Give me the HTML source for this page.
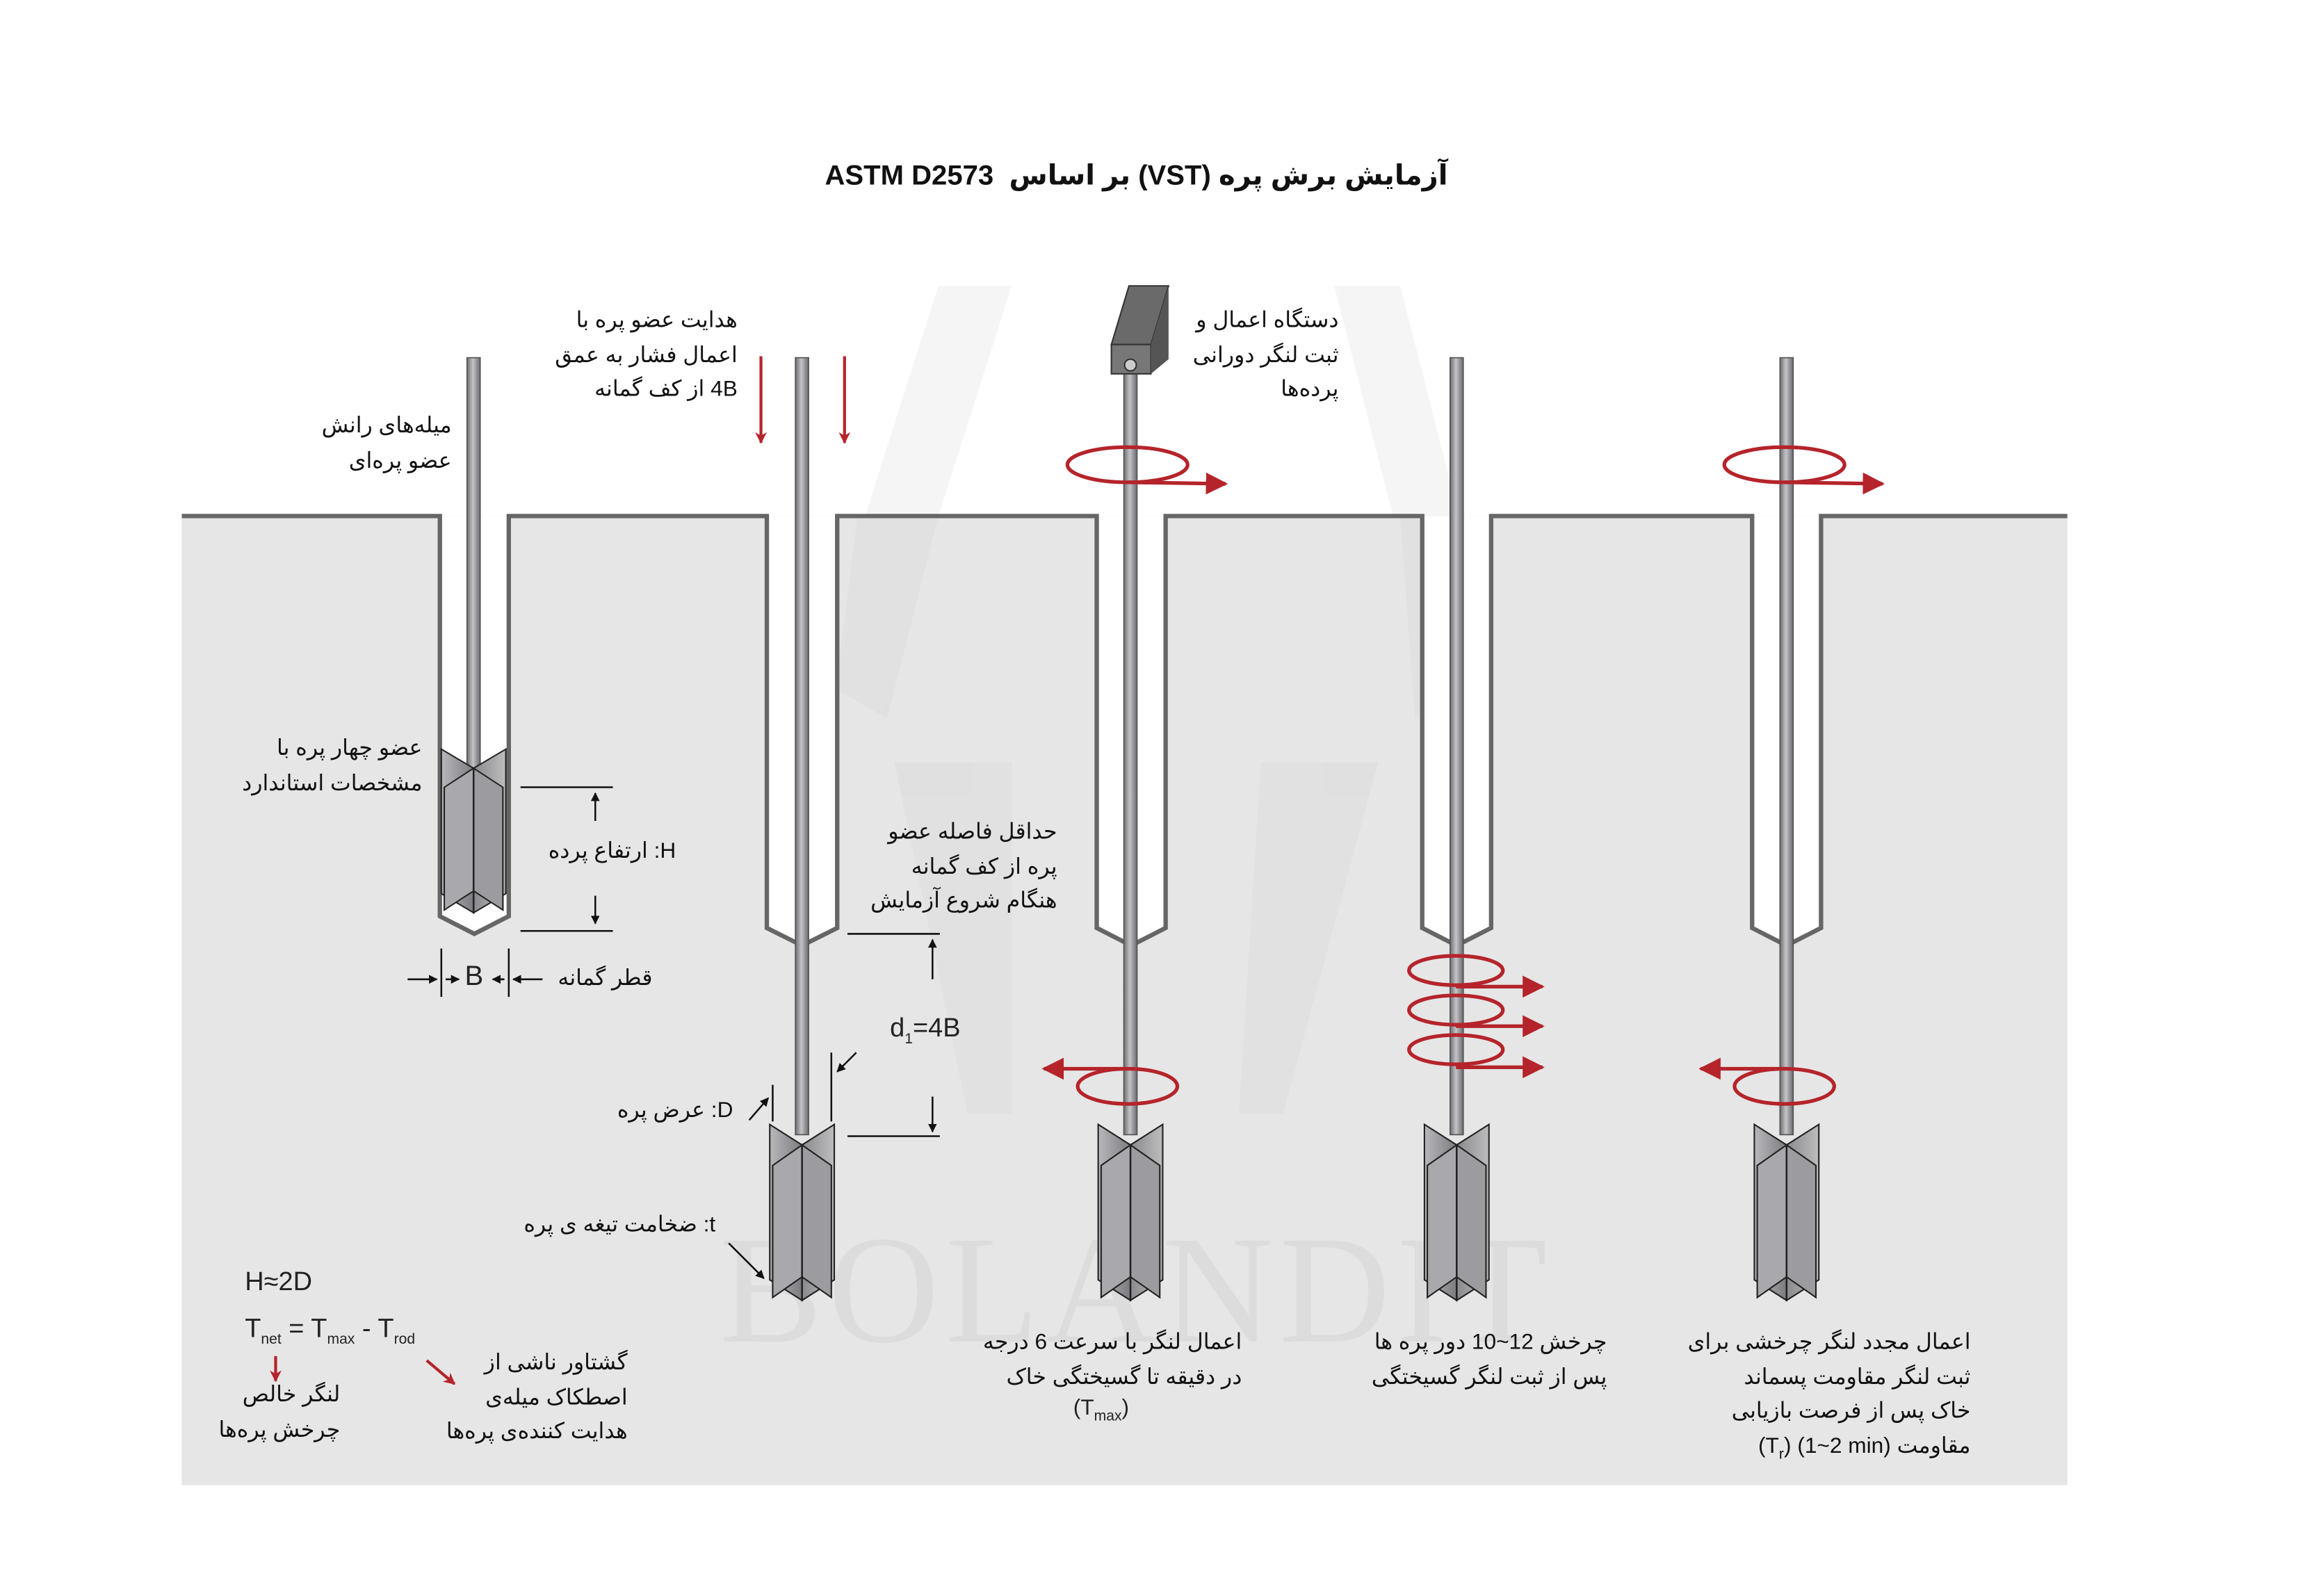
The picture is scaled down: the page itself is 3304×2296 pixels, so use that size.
<!DOCTYPE html>
<html><head><meta charset="utf-8">
<style>
html,body{margin:0;padding:0;background:#fff;}
#wrap{position:relative;width:3304px;height:2296px;overflow:hidden;background:#fff;}
#c{position:absolute;left:0;top:0;width:1550px;height:1077px;transform:scale(2.109);transform-origin:0 0;}
svg{position:absolute;left:0;top:0;}
.t{position:absolute;direction:rtl;white-space:nowrap;font-family:"Liberation Sans","DejaVu Sans",sans-serif;font-size:15px;line-height:23.5px;color:#111;text-align:right;}
.l{position:absolute;white-space:nowrap;font-family:"Liberation Sans","DejaVu Sans",sans-serif;font-size:17px;color:#222;}
sub{font-size:10px;}
</style></head><body>
<div id="wrap"><div id="c">
<svg width="1550" height="1077" viewBox="0 0 1550 1077">
<defs>
<linearGradient id="rod" x1="0" x2="1"><stop offset="0" stop-color="#6e6e72"/><stop offset="0.45" stop-color="#c4c4c8"/><stop offset="1" stop-color="#6a6a6e"/></linearGradient>
<linearGradient id="bl" x1="0" x2="1"><stop offset="0" stop-color="#b8b8bc"/><stop offset="1" stop-color="#7c7c80"/></linearGradient>
<linearGradient id="br" x1="0" x2="1"><stop offset="0" stop-color="#8a8a8e"/><stop offset="1" stop-color="#bdbdc0"/></linearGradient>
<marker id="ar" viewBox="0 0 10 10" refX="9" refY="5" markerWidth="5" markerHeight="5" orient="auto"><path d="M0,0 L10,5 L0,10 z" fill="#111"/></marker>
<marker id="rr" viewBox="0 0 10 10" refX="9" refY="5" markerWidth="4" markerHeight="4" orient="auto"><path d="M0,0 L10,5 L0,10 L3,5 z" fill="#b5242b"/></marker>
<marker id="rs" viewBox="0 0 10 10" refX="9" refY="5" markerWidth="6" markerHeight="6" orient="auto"><path d="M0,0 L10,5 L0,10 z" fill="#b5242b"/></marker>
<g id="vane">
 <polygon points="-22,0 0,14 0,120 -22,106" fill="url(#bl)" stroke="#222" stroke-width="1"/>
 <polygon points="22,0 0,14 0,120 22,106" fill="url(#br)" stroke="#222" stroke-width="1"/>
 <polygon points="-20,28 0,14 0,104 -20,118" fill="#a9a9ad" stroke="#222" stroke-width="1"/>
 <polygon points="20,28 0,14 0,104 20,118" fill="#9c9ca0" stroke="#222" stroke-width="1"/>
 <line x1="0" y1="14" x2="0" y2="120" stroke="#222" stroke-width="1.2"/>
</g>
</defs>
<g fill="#f5f5f5">
<polygon points="640,195 690,195 640,352 590,352"/>
<polygon points="910,195 955,195 995,352 950,352"/>
</g>
<rect x="124" y="352" width="1286" height="661" fill="#e6e6e6"/>
<g fill="#dedede" opacity="0.7">
<polygon points="585,352 640,352 605,490 570,470"/>
<polygon points="955,352 995,352 1005,470 965,490"/>
<polygon points="610,520 690,520 690,760 660,760"/>
<polygon points="860,520 940,520 875,760 845,760"/>
</g>
<text x="775" y="915" text-anchor="middle" font-family="Liberation Serif,serif" font-size="105" fill="#000" opacity="0.04" letter-spacing="4">BOLANDIT</text>
<g fill="#fff">
<path d="M301.5,352 H345.5 V624 L323.5,635 L301.5,624 Z"/>
<path d="M524.5,352 H569.5 V632 L547,643 L524.5,632 Z"/>
<path d="M749.5,352 H793.5 V632 L771.5,643 L749.5,632 Z"/>
<path d="M971.5,352 H1015.5 V632 L993.5,643 L971.5,632 Z"/>
<path d="M1196.5,352 H1240.5 V632 L1218.5,643 L1196.5,632 Z"/>
</g>
<g stroke="#666" stroke-width="3" fill="none">
<path d="M124,352 H300 V625 L323.5,637 L347,625 V352 H523 V633 L547,645 L571,633 V352 H748 V633 L771.5,645 L795,633 V352 H970 V633 L993.5,645 L1017,633 V352 H1195 V633 L1218.5,645 L1242,633 V352 H1410"/>
</g>
<g stroke="#555" stroke-width="0.8">
<rect x="318.5" y="244" width="9" height="282" fill="url(#rod)"/>
<rect x="542.5" y="244" width="9" height="530" fill="url(#rod)"/>
<rect x="766.5" y="252" width="9" height="522" fill="url(#rod)"/>
<rect x="989" y="244" width="9" height="530" fill="url(#rod)"/>
<rect x="1214" y="244" width="9" height="530" fill="url(#rod)"/>
</g>
<use href="#vane" transform="translate(323,511) scale(1,0.93)"/>
<use href="#vane" transform="translate(547,767)"/>
<use href="#vane" transform="translate(771,767)"/>
<use href="#vane" transform="translate(993.5,767)"/>
<use href="#vane" transform="translate(1218.5,767)"/>
<polygon points="770,195 797,195 785,235 758,235" fill="#6a6a6a" stroke="#333" stroke-width="1"/>
<rect x="758" y="235" width="27" height="20" fill="#777" stroke="#333" stroke-width="1"/>
<polygon points="785,235 797,195 797,245 785,255" fill="#555"/>
<circle cx="771" cy="249" r="4" fill="#ccc" stroke="#333" stroke-width="1"/>
<g stroke="#b5242b" stroke-width="2.5" fill="none">
<ellipse cx="769" cy="317" rx="41" ry="12"/>
<line x1="769" y1="329" x2="836" y2="330" marker-end="url(#rs)"/>
<ellipse cx="1217" cy="317" rx="41" ry="12"/>
<line x1="1217" y1="329" x2="1284" y2="330" marker-end="url(#rs)"/>
<ellipse cx="769" cy="741" rx="34" ry="12"/>
<line x1="769" y1="729" x2="712" y2="729" marker-end="url(#rs)"/>
<ellipse cx="1217" cy="741" rx="34" ry="12"/>
<line x1="1217" y1="729" x2="1160" y2="729" marker-end="url(#rs)"/>
<ellipse cx="993" cy="662" rx="32" ry="10"/>
<ellipse cx="993" cy="689" rx="32" ry="10"/>
<ellipse cx="993" cy="716" rx="32" ry="10"/>
<line x1="993" y1="673" x2="1052" y2="673" marker-end="url(#rs)"/>
<line x1="993" y1="700" x2="1052" y2="700" marker-end="url(#rs)"/>
<line x1="993" y1="728" x2="1052" y2="728" marker-end="url(#rs)"/>
<line x1="519" y1="243" x2="519" y2="302" stroke-width="2" marker-end="url(#rr)"/>
<line x1="576" y1="243" x2="576" y2="302" stroke-width="2" marker-end="url(#rr)"/>
<line x1="188" y1="925" x2="188" y2="942" stroke-width="2" marker-end="url(#rr)"/>
<line x1="291" y1="928" x2="310" y2="944" stroke-width="2" marker-end="url(#rr)"/>
</g>
<g stroke="#111" stroke-width="1.2" fill="none">
<line x1="355" y1="537" x2="418" y2="537"/>
<line x1="355" y1="635" x2="418" y2="635"/>
<line x1="406" y1="560" x2="406" y2="541" marker-end="url(#ar)"/>
<line x1="406" y1="611" x2="406" y2="630" marker-end="url(#ar)"/>
<line x1="301" y1="647" x2="301" y2="680"/>
<line x1="347" y1="647" x2="347" y2="680"/>
<line x1="278" y1="668" x2="298" y2="668" marker-end="url(#ar)"/>
<line x1="304" y1="668" x2="313" y2="668" marker-end="url(#ar)"/>
<line x1="344" y1="668" x2="336" y2="668" marker-end="url(#ar)"/>
<line x1="370" y1="668" x2="350" y2="668" marker-end="url(#ar)"/>
<line x1="578" y1="637" x2="641" y2="637"/>
<line x1="578" y1="775" x2="641" y2="775"/>
<line x1="636" y1="668" x2="636" y2="641" marker-end="url(#ar)"/>
<line x1="636" y1="748" x2="636" y2="772" marker-end="url(#ar)"/>
<line x1="527" y1="740" x2="527" y2="765"/>
<line x1="567" y1="718" x2="567" y2="765"/>
<line x1="511" y1="764" x2="524" y2="749" marker-end="url(#ar)"/>
<line x1="584" y1="718" x2="571" y2="731" marker-end="url(#ar)"/>
<line x1="497" y1="848" x2="521" y2="872" marker-end="url(#ar)"/>
</g>
</svg>

<div class="l" style="left:0;width:1550px;text-align:center;top:109px;font-size:19px;font-weight:bold;color:#111;direction:rtl;">آزمایش برش پره (VST) بر اساس&nbsp; ASTM D2573</div>

<div class="t" style="right:1242px;top:279px;">میله‌های رانش<br>عضو پره‌ای</div>
<div class="t" style="right:1047px;top:207px;">هدایت عضو پره با<br>اعمال فشار به عمق<br>4B از کف گمانه</div>
<div class="t" style="right:637px;top:207px;">دستگاه اعمال و<br>ثبت لنگر دورانی<br>پرده‌ها</div>
<div class="t" style="right:1262px;top:499px;">عضو چهار پره با<br>مشخصات استاندارد</div>
<div class="t" style="right:1089px;top:569px;">H: ارتفاع پرده</div>
<div class="t" style="right:1105px;top:656px;">قطر گمانه</div>
<div class="l" style="left:317px;top:656px;font-size:19px;">B</div>
<div class="t" style="right:829px;top:556px;">حداقل فاصله عضو<br>پره از کف گمانه<br>هنگام شروع آزمایش</div>
<div class="l" style="left:607px;top:691px;font-size:18px;">d<sub>1</sub>=4B</div>
<div class="t" style="right:1050px;top:746px;">D: عرض پره</div>
<div class="t" style="right:1062px;top:824px;">t: ضخامت تیغه ی پره</div>
<div class="l" style="left:167px;top:864px;font-size:18px;">H≈2D</div>
<div class="l" style="left:167px;top:896px;font-size:18px;">T<sub>net</sub> = T<sub>max</sub> - T<sub>rod</sub></div>
<div class="t" style="right:1318px;top:940px;">لنگر خالص<br>چرخش پره‌ها</div>
<div class="t" style="right:1122px;top:918px;">گشتاور ناشی از<br>اصطکاک میله‌ی<br>هدایت کننده‌ی پره‌ها</div>
<div class="t" style="right:703px;top:904px;">اعمال لنگر با سرعت 6 درجه<br>در دقیقه تا گسیختگی خاک</div>
<div class="l" style="left:732px;top:952px;font-size:15px;">(T<sub>max</sub>)</div>
<div class="t" style="right:454px;top:904px;">چرخش 12~10 دور پره ها<br>پس از ثبت لنگر گسیختگی</div>
<div class="t" style="right:206px;top:904px;">اعمال مجدد لنگر چرخشی برای<br>ثبت لنگر مقاومت پسماند<br>خاک پس از فرصت بازیابی<br>مقاومت <bdi dir="ltr">(1~2 min)</bdi> <bdi dir="ltr">(T<sub>r</sub>)</bdi></div>
</div></div>
</body></html>
